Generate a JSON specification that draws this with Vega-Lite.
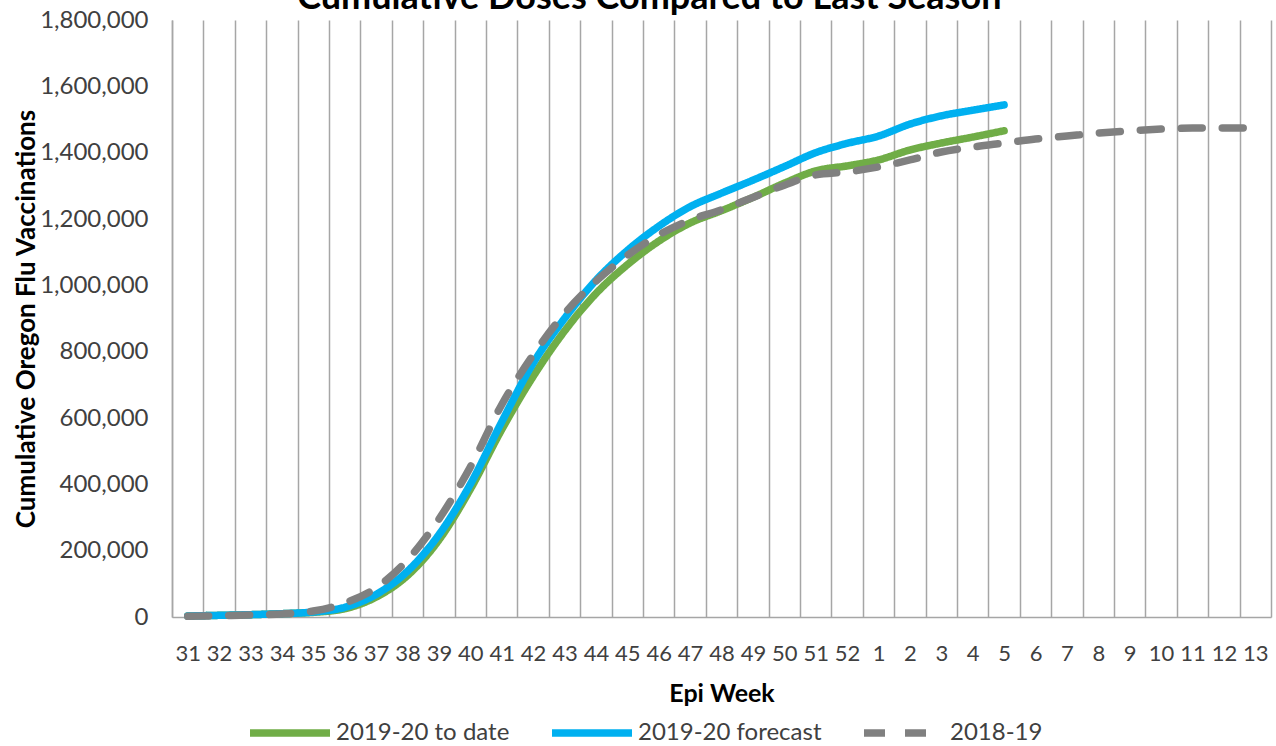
{
  "$schema": "https://vega.github.io/schema/vega-lite/v6.json",
  "autosize": "none",
  "width": 1099,
  "height": 597,
  "padding": {"left": 172, "top": 20, "right": 5, "bottom": 129},
  "background": "white",
  "config": {
    "font": "Lato",
    "view": {"stroke": null},
    "axis": {"labelFont": "Lato", "titleFont": "Lato"}
  },
  "title": {
    "text": "Cumulative Doses Compared to Last Season",
    "fontSize": 36,
    "fontWeight": "bold",
    "color": "#000000",
    "anchor": "middle",
    "frame": "bounds",
    "offset": -9,
    "dx": 7
  },
  "data": {
    "values": [
      {"week": "31", "series": "2019-20 to date", "doses": 3000},
      {"week": "32", "series": "2019-20 to date", "doses": 5000},
      {"week": "33", "series": "2019-20 to date", "doses": 7000},
      {"week": "34", "series": "2019-20 to date", "doses": 10000},
      {"week": "35", "series": "2019-20 to date", "doses": 14000},
      {"week": "36", "series": "2019-20 to date", "doses": 25000},
      {"week": "37", "series": "2019-20 to date", "doses": 60000},
      {"week": "38", "series": "2019-20 to date", "doses": 125000},
      {"week": "39", "series": "2019-20 to date", "doses": 232000},
      {"week": "40", "series": "2019-20 to date", "doses": 385000},
      {"week": "41", "series": "2019-20 to date", "doses": 565000},
      {"week": "42", "series": "2019-20 to date", "doses": 725000},
      {"week": "43", "series": "2019-20 to date", "doses": 862000},
      {"week": "44", "series": "2019-20 to date", "doses": 975000},
      {"week": "45", "series": "2019-20 to date", "doses": 1062000},
      {"week": "46", "series": "2019-20 to date", "doses": 1133000},
      {"week": "47", "series": "2019-20 to date", "doses": 1188000},
      {"week": "48", "series": "2019-20 to date", "doses": 1225000},
      {"week": "49", "series": "2019-20 to date", "doses": 1265000},
      {"week": "50", "series": "2019-20 to date", "doses": 1308000},
      {"week": "51", "series": "2019-20 to date", "doses": 1345000},
      {"week": "52", "series": "2019-20 to date", "doses": 1360000},
      {"week": "1", "series": "2019-20 to date", "doses": 1378000},
      {"week": "2", "series": "2019-20 to date", "doses": 1408000},
      {"week": "3", "series": "2019-20 to date", "doses": 1429000},
      {"week": "4", "series": "2019-20 to date", "doses": 1447000},
      {"week": "5", "series": "2019-20 to date", "doses": 1466000},
      {"week": "31", "series": "2019-20 forecast", "doses": 3000},
      {"week": "32", "series": "2019-20 forecast", "doses": 5000},
      {"week": "33", "series": "2019-20 forecast", "doses": 7000},
      {"week": "34", "series": "2019-20 forecast", "doses": 10000},
      {"week": "35", "series": "2019-20 forecast", "doses": 15000},
      {"week": "36", "series": "2019-20 forecast", "doses": 29000},
      {"week": "37", "series": "2019-20 forecast", "doses": 68000},
      {"week": "38", "series": "2019-20 forecast", "doses": 138000},
      {"week": "39", "series": "2019-20 forecast", "doses": 248000},
      {"week": "40", "series": "2019-20 forecast", "doses": 400000},
      {"week": "41", "series": "2019-20 forecast", "doses": 588000},
      {"week": "42", "series": "2019-20 forecast", "doses": 765000},
      {"week": "43", "series": "2019-20 forecast", "doses": 900000},
      {"week": "44", "series": "2019-20 forecast", "doses": 1015000},
      {"week": "45", "series": "2019-20 forecast", "doses": 1105000},
      {"week": "46", "series": "2019-20 forecast", "doses": 1178000},
      {"week": "47", "series": "2019-20 forecast", "doses": 1237000},
      {"week": "48", "series": "2019-20 forecast", "doses": 1278000},
      {"week": "49", "series": "2019-20 forecast", "doses": 1317000},
      {"week": "50", "series": "2019-20 forecast", "doses": 1358000},
      {"week": "51", "series": "2019-20 forecast", "doses": 1400000},
      {"week": "52", "series": "2019-20 forecast", "doses": 1428000},
      {"week": "1", "series": "2019-20 forecast", "doses": 1450000},
      {"week": "2", "series": "2019-20 forecast", "doses": 1486000},
      {"week": "3", "series": "2019-20 forecast", "doses": 1511000},
      {"week": "4", "series": "2019-20 forecast", "doses": 1528000},
      {"week": "5", "series": "2019-20 forecast", "doses": 1544000},
      {"week": "31", "series": "2018-19", "doses": 2000},
      {"week": "32", "series": "2018-19", "doses": 4000},
      {"week": "33", "series": "2018-19", "doses": 6000},
      {"week": "34", "series": "2018-19", "doses": 9000},
      {"week": "35", "series": "2018-19", "doses": 18000},
      {"week": "36", "series": "2018-19", "doses": 42000},
      {"week": "37", "series": "2018-19", "doses": 88000},
      {"week": "38", "series": "2018-19", "doses": 172000},
      {"week": "39", "series": "2018-19", "doses": 295000},
      {"week": "40", "series": "2018-19", "doses": 452000},
      {"week": "41", "series": "2018-19", "doses": 640000},
      {"week": "42", "series": "2018-19", "doses": 790000},
      {"week": "43", "series": "2018-19", "doses": 915000},
      {"week": "44", "series": "2018-19", "doses": 1012000},
      {"week": "45", "series": "2018-19", "doses": 1090000},
      {"week": "46", "series": "2018-19", "doses": 1152000},
      {"week": "47", "series": "2018-19", "doses": 1197000},
      {"week": "48", "series": "2018-19", "doses": 1228000},
      {"week": "49", "series": "2018-19", "doses": 1265000},
      {"week": "50", "series": "2018-19", "doses": 1302000},
      {"week": "51", "series": "2018-19", "doses": 1333000},
      {"week": "52", "series": "2018-19", "doses": 1342000},
      {"week": "1", "series": "2018-19", "doses": 1357000},
      {"week": "2", "series": "2018-19", "doses": 1378000},
      {"week": "3", "series": "2018-19", "doses": 1402000},
      {"week": "4", "series": "2018-19", "doses": 1417000},
      {"week": "5", "series": "2018-19", "doses": 1429000},
      {"week": "6", "series": "2018-19", "doses": 1441000},
      {"week": "7", "series": "2018-19", "doses": 1450000},
      {"week": "8", "series": "2018-19", "doses": 1459000},
      {"week": "9", "series": "2018-19", "doses": 1466000},
      {"week": "10", "series": "2018-19", "doses": 1471000},
      {"week": "11", "series": "2018-19", "doses": 1474000},
      {"week": "12", "series": "2018-19", "doses": 1474000},
      {"week": "13", "series": "2018-19", "doses": 1475000}
    ]
  },
  "mark": {"type": "line", "interpolate": "monotone", "strokeWidth": 7.5, "strokeCap": "round", "strokeJoin": "round"},
  "encoding": {
    "x": {
      "field": "week",
      "type": "ordinal",
      "sort": ["31","32","33","34","35","36","37","38","39","40","41","42","43","44","45","46","47","48","49","50","51","52","1","2","3","4","5","6","7","8","9","10","11","12","13"],
      "scale": {"paddingInner": 0, "paddingOuter": 0},
      "axis": {
        "title": "Epi Week",
        "titleFontSize": 25,
        "titleFontWeight": "bold",
        "titleColor": "#000000",
        "titlePadding": 17,
        "labelAngle": 0,
        "labelFontSize": 22,
        "labelColor": "#404040",
        "labelPadding": 26,
        "labelOverlap": false,
        "ticks": false,
        "tickBand": "extent",
        "grid": true,
        "gridColor": "#a6a6a6",
        "gridWidth": 1.5,
        "domainColor": "#a6a6a6",
        "domainWidth": 1.5
      }
    },
    "y": {
      "field": "doses",
      "type": "quantitative",
      "scale": {"domain": [0, 1800000], "nice": false},
      "axis": {
        "title": "Cumulative Oregon Flu Vaccinations",
        "titleFontSize": 26,
        "titleFontWeight": "bold",
        "titleColor": "#000000",
        "titlePadding": 0,
        "values": [0, 200000, 400000, 600000, 800000, 1000000, 1200000, 1400000, 1600000, 1800000],
        "format": ",.0f",
        "labelFontSize": 24,
        "labelColor": "#404040",
        "labelPadding": 24,
        "ticks": false,
        "grid": false,
        "domainColor": "#a6a6a6",
        "domainWidth": 1.5
      }
    },
    "color": {
      "field": "series",
      "type": "nominal",
      "sort": ["2019-20 to date", "2019-20 forecast", "2018-19"],
      "scale": {"domain": ["2019-20 to date", "2019-20 forecast", "2018-19"], "range": ["#70ad47", "#00b0f0", "#808080"]},
      "legend": {
        "title": null,
        "orient": "none",
        "direction": "horizontal",
        "legendX": 74,
        "legendY": 669,
        "symbolType": "stroke",
        "symbolSize": 6400,
        "symbolStrokeWidth": 7.5,
        "labelFontSize": 24,
        "labelLimit": 0,
        "labelColor": "#404040",
        "labelOffset": 2,
        "columnPadding": 27
      }
    },
    "strokeDash": {
      "field": "series",
      "type": "nominal",
      "sort": ["2019-20 to date", "2019-20 forecast", "2018-19"],
      "scale": {"domain": ["2019-20 to date", "2019-20 forecast", "2018-19"], "range": [[1, 0], [1, 0], [21, 20]]},
      "legend": {
        "title": null,
        "orient": "none",
        "direction": "horizontal",
        "legendX": 74,
        "legendY": 669,
        "symbolType": "stroke",
        "symbolSize": 6400,
        "symbolStrokeWidth": 7.5,
        "labelFontSize": 24,
        "labelLimit": 0,
        "labelColor": "#404040",
        "labelOffset": 2,
        "columnPadding": 27
      }
    },
    "order": {"field": "series", "sort": "ascending"}
  }
}
